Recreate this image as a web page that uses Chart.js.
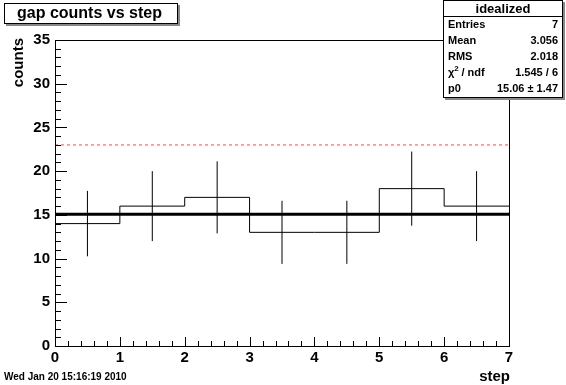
<!DOCTYPE html>
<html>
<head>
<meta charset="utf-8">
<script src="https://cdn.jsdelivr.net/npm/chart.js@4"></script>
<style>
  html, body { margin: 0; padding: 0; background: #fff; }
  #wrap { width: 566px; height: 385px; position: relative; }
</style>
</head>
<body>
<div id="wrap"><canvas id="c"></canvas></div>
<script>
// histogram: bin edges 0..7, one count per bin
const binEdges = [0, 1, 2, 3, 4, 5, 6, 7];
const counts = [14, 16, 17, 13, 13, 18, 16];
const errors = [3.74, 4.0, 4.12, 3.61, 3.61, 4.24, 4.0];
const fitValue = 15.06;
const refLine = 23;
const statsRows = [
  ["Entries", "7"],
  ["Mean", "3.056"],
  ["RMS", "2.018"],
  ["chi2", "1.545 / 6"],
  ["p0", "15.06 \u00b1 1.47"]
];

const FONT = "'Liberation Sans', Arial, sans-serif";

// step line points at the left edge of each bin, plus the last edge
const stepPts = binEdges.map((x, i) => ({ x: x, y: counts[Math.min(i, counts.length - 1)] }));

// error bars: vertical segments at bin centres, separated by gaps
const errPts = [];
counts.forEach((n, i) => {
  const c = (binEdges[i] + binEdges[i + 1]) / 2;
  errPts.push({ x: c, y: n - errors[i] }, { x: c, y: n + errors[i] }, { x: c, y: null });
});

const xMin = binEdges[0], xMax = binEdges[binEdges.length - 1];

/* ---- frame, inner ticks, axis titles, title box, stats box, date ---- */
const rootDecor = {
  id: "rootDecor",
  afterDraw(chart) {
    const ctx = chart.ctx;
    const a = chart.chartArea;
    const xs = chart.scales.x, ys = chart.scales.y;
    ctx.save();

    // frame
    ctx.strokeStyle = "#000";
    ctx.lineWidth = 1;
    ctx.strokeRect(a.left + 0.5, a.top + 0.5, a.right - a.left, a.bottom - a.top);

    // x ticks (5 subdivisions)
    ctx.beginPath();
    for (let v = xMin; v <= xMax + 1e-9; v += 0.2) {
      const px = Math.round(xs.getPixelForValue(v)) + 0.5;
      const major = Math.abs(v - Math.round(v)) < 1e-6;
      ctx.moveTo(px, a.bottom);
      ctx.lineTo(px, a.bottom - (major ? 9 : 5));
    }
    // y ticks (major every 5, minor every 1)
    for (let v = 0; v <= 35; v += 1) {
      const py = Math.round(ys.getPixelForValue(v)) + 0.5;
      const major = v % 5 === 0;
      ctx.moveTo(a.left, py);
      ctx.lineTo(a.left + (major ? 12 : 6), py);
    }
    ctx.stroke();

    // axis titles
    ctx.fillStyle = "#000";
    ctx.font = "bold 15px " + FONT;
    ctx.textBaseline = "alphabetic";
    ctx.textAlign = "right";
    ctx.fillText("step", 510, 381);
    ctx.save();
    ctx.translate(23, 38);
    ctx.rotate(-Math.PI / 2);
    ctx.fillText("counts", 0, 0);
    ctx.restore();

    // title box with shadow
    ctx.fillStyle = "#888";
    ctx.fillRect(6, 5, 174, 21);
    ctx.fillStyle = "#fff";
    ctx.fillRect(4, 3, 174, 21);
    ctx.strokeStyle = "#000";
    ctx.strokeRect(4.5, 3.5, 173, 20);
    ctx.fillStyle = "#000";
    ctx.font = "bold 16px " + FONT;
    ctx.textBaseline = "middle";
    ctx.textAlign = "left";
    ctx.fillText("gap counts vs step", 17, 14);

    // stats box with shadow
    const bx = 443, by = 0, bw = 120, bh = 98;
    ctx.fillStyle = "#888";
    ctx.fillRect(bx + 2, by + 2, bw, bh);
    ctx.fillStyle = "#fff";
    ctx.fillRect(bx, by, bw, bh);
    ctx.strokeStyle = "#000";
    ctx.strokeRect(bx + 0.5, by + 0.5, bw - 1, bh - 1);
    ctx.beginPath();
    ctx.moveTo(bx, 16.5);
    ctx.lineTo(bx + bw, 16.5);
    ctx.stroke();
    ctx.fillStyle = "#000";
    ctx.font = "bold 13px " + FONT;
    ctx.textAlign = "center";
    ctx.fillText("idealized", bx + bw / 2, 9);
    ctx.font = "bold 11px " + FONT;
    statsRows.forEach((r, i) => {
      const y = 25 + i * 16;
      ctx.textAlign = "left";
      if (r[0] === "chi2") {
        ctx.fillText("\u03c7", bx + 5, y);
        const w = ctx.measureText("\u03c7").width;
        ctx.font = "bold 8px " + FONT;
        ctx.fillText("2", bx + 5 + w, y - 4);
        ctx.font = "bold 11px " + FONT;
        ctx.fillText(" / ndf", bx + 5 + w + 4, y);
      } else {
        ctx.fillText(r[0], bx + 5, y);
      }
      ctx.textAlign = "right";
      ctx.fillText(r[1], bx + bw - 5, y);
    });

    // date stamp
    ctx.textAlign = "left";
    ctx.font = "bold 10px " + FONT;
    ctx.fillText("Wed Jan 20 15:16:19 2010", 4, 377);

    ctx.restore();
  }
};

new Chart(document.getElementById("c"), {
  type: "line",
  data: {
    datasets: [
      {
        label: "ref",
        data: [{ x: xMin, y: refLine }, { x: xMax, y: refLine }],
        borderColor: "#f08a8a",
        borderWidth: 1.5,
        borderDash: [3, 3],
        pointRadius: 0
      },
      {
        label: "hist",
        data: stepPts,
        stepped: true,
        borderColor: "#000",
        borderWidth: 1,
        pointRadius: 0
      },
      {
        label: "errors",
        data: errPts,
        spanGaps: false,
        borderColor: "#000",
        borderWidth: 1,
        pointRadius: 0
      },
      {
        label: "fit",
        data: [{ x: xMin, y: fitValue }, { x: xMax, y: fitValue }],
        borderColor: "#000",
        borderWidth: 3,
        pointRadius: 0
      }
    ]
  },
  options: {
    responsive: true,
    maintainAspectRatio: false,
    animation: false,
    layout: { padding: { top: 40, right: 57, left: 0, bottom: 0 } },
    plugins: { legend: { display: false }, tooltip: { enabled: false } },
    scales: {
      x: {
        type: "linear",
        min: xMin,
        max: xMax,
        afterFit: s => { s.height = 39; },
        grid: { display: false, drawTicks: false },
        border: { display: false },
        ticks: { stepSize: 1, color: "#000", padding: 3, font: { family: FONT, size: 15, weight: "bold" } }
      },
      y: {
        min: 0,
        max: 35,
        afterFit: s => { s.width = 55; },
        grid: { display: false, drawTicks: false },
        border: { display: false },
        ticks: { stepSize: 5, color: "#000", padding: 5, font: { family: FONT, size: 15, weight: "bold" } }
      }
    }
  },
  plugins: [rootDecor]
});
</script>
</body>
</html>
